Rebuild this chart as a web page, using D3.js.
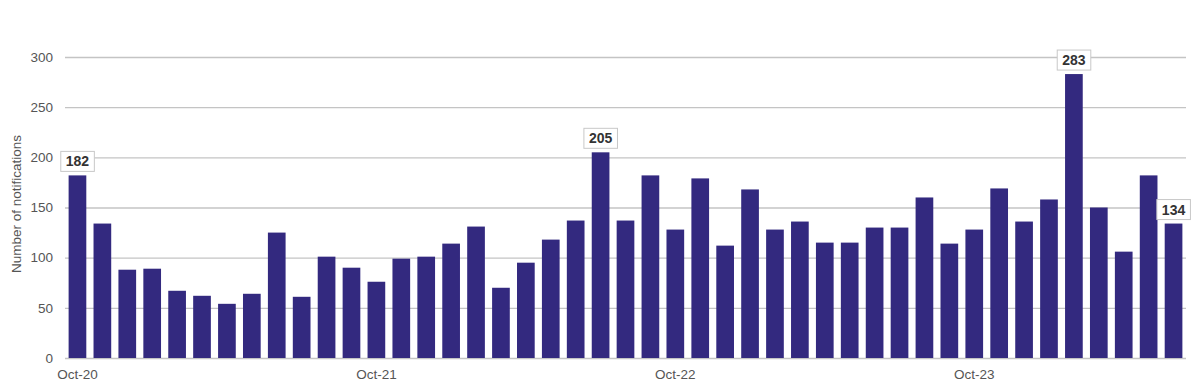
<!DOCTYPE html>
<html>
<head>
<meta charset="utf-8">
<script src="https://cdn.jsdelivr.net/npm/d3@7"></script>
<style>
  body { margin: 0; background: #fff; }
  svg { display: block; font-family: "Liberation Sans", Arial, sans-serif; }
  .axis text { fill: #555; font-size: 13.5px; }
  .axis .domain { display: none; }
</style>
</head>
<body>
<svg id="chart"></svg>
<script>
// --- dados ---
const months = [
  "Oct-20", "Nov-20", "Dec-20", "Jan-21", "Feb-21", "Mar-21", "Apr-21", "May-21", "Jun-21",
  "Jul-21", "Aug-21", "Sep-21", "Oct-21", "Nov-21", "Dec-21", "Jan-22", "Feb-22", "Mar-22",
  "Apr-22", "May-22", "Jun-22", "Jul-22", "Aug-22", "Sep-22", "Oct-22", "Nov-22", "Dec-22",
  "Jan-23", "Feb-23", "Mar-23", "Apr-23", "May-23", "Jun-23", "Jul-23", "Aug-23", "Sep-23",
  "Oct-23", "Nov-23", "Dec-23", "Jan-24", "Feb-24", "Mar-24", "Apr-24", "May-24", "Jun-24"
];
const notifications = [
  182, 134, 88, 89, 67, 62, 54, 64, 125,
  61, 101, 90, 76, 99, 101, 114, 131, 70,
  95, 118, 137, 205, 137, 182, 128, 179, 112,
  168, 128, 136, 115, 115, 130, 130, 160, 114,
  128, 169, 136, 158, 283, 150, 106, 182, 134
];
const xTickLabels = ["Oct-20", "Oct-21", "Oct-22", "Oct-23"];
const yTickValues = [0, 50, 100, 150, 200, 250, 300];
const labelledMonths = ["Oct-20", "Jul-22", "Feb-24", "Jun-24"];
const yTitle = "Number of notifications";

const data = months.map((m, i) => ({ month: m, value: notifications[i] }));

// --- tamanho ---
const W = 1196, H = 388;
const svg = d3.select("#chart").attr("width", W).attr("height", H);

const x = d3.scaleBand()
  .domain(months)
  .range([65, 1186])
  .paddingInner(0.29)
  .paddingOuter(0.145);

const y = d3.scaleLinear().domain([0, 300]).range([358, 57]);

// linhas de grade
svg.append("g")
  .attr("class", "grid")
  .attr("transform", "translate(65,0)")
  .call(d3.axisLeft(y).tickValues(yTickValues).tickSize(-(1186 - 65)).tickFormat(""))
  .call(g => g.select(".domain").remove())
  .call(g => g.selectAll("line").attr("stroke", "#c4c4c4").attr("stroke-width", 1.3));

// eixo y
svg.append("g")
  .attr("class", "axis")
  .attr("transform", "translate(53,0)")
  .call(d3.axisLeft(y).tickValues(yTickValues).tickSize(0).tickPadding(0));

// eixo x
svg.append("g")
  .attr("class", "axis")
  .attr("transform", "translate(0,365)")
  .call(d3.axisBottom(x).tickValues(xTickLabels).tickSize(0).tickPadding(4));

// título do eixo y
svg.append("text")
  .attr("transform", "translate(21,204) rotate(-90)")
  .attr("text-anchor", "middle")
  .attr("fill", "#555")
  .style("font-size", "13.5px")
  .text(yTitle);

// barras
svg.append("g").selectAll("rect")
  .data(data)
  .join("rect")
  .attr("x", d => x(d.month))
  .attr("y", d => y(d.value))
  .attr("width", x.bandwidth())
  .attr("height", d => y(0) - y(d.value))
  .attr("fill", "#33297f");

// rótulos com caixa
const labels = svg.append("g").selectAll("g")
  .data(data.filter(d => labelledMonths.includes(d.month)))
  .join("g")
  .attr("transform", d => `translate(${x(d.month) + x.bandwidth() / 2},${y(d.value) - 4})`);

labels.append("rect").attr("class", "box");
labels.append("text")
  .attr("text-anchor", "middle")
  .attr("y", -5)
  .attr("fill", "#333")
  .style("font-size", "14px")
  .style("font-weight", "bold")
  .text(d => d.value);

labels.each(function() {
  const g = d3.select(this);
  const bb = g.select("text").node().getBBox();
  g.select("rect")
    .attr("x", bb.x - 5)
    .attr("y", -20)
    .attr("width", bb.width + 10)
    .attr("height", 20)
    .attr("fill", "#fff")
    .attr("stroke", "#c8c8c8")
    .attr("stroke-width", 1);
});
</script>
</body>
</html>
